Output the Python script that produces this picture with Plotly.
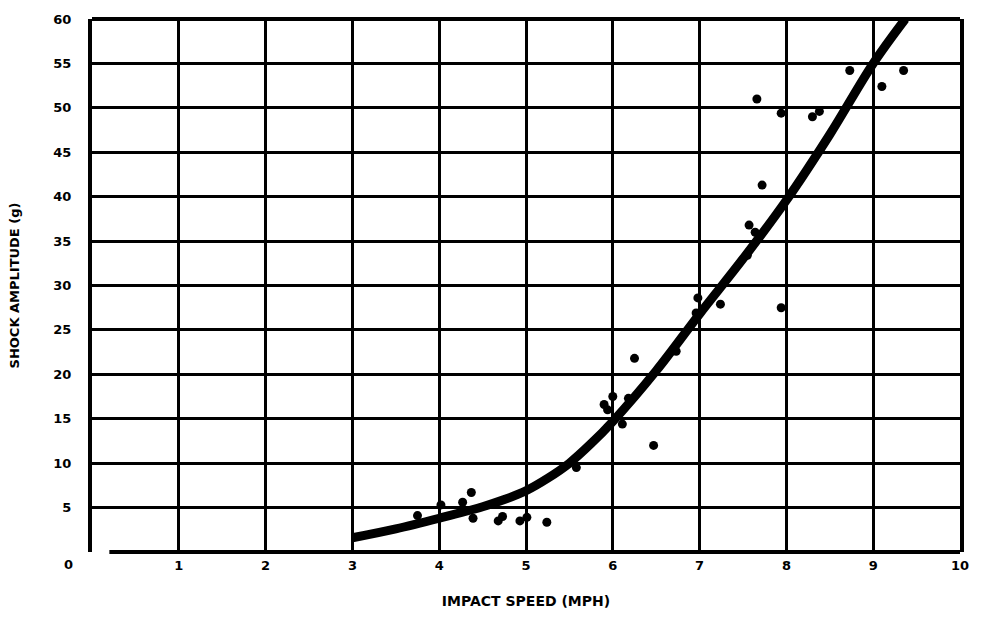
import plotly.graph_objects as go

# Measured data points (impact speed mph, shock amplitude g)
speed = [3.75, 4.02, 4.27, 4.37, 4.39, 4.68, 4.73, 4.93, 5.01, 5.24, 5.58,
         5.90, 5.94, 6.00, 6.11, 6.18, 6.25, 6.47, 6.73, 6.96, 6.98, 7.24,
         7.55, 7.57, 7.64, 7.66, 7.72, 7.94, 7.94, 8.30, 8.38, 8.73, 9.10, 9.35]
amplitude = [4.1, 5.3, 5.6, 6.7, 3.8, 3.5, 4.0, 3.5, 3.9, 3.35, 9.5,
             16.6, 16.0, 17.5, 14.4, 17.3, 21.8, 12.0, 22.6, 26.9, 28.6, 27.9,
             33.4, 36.8, 36.0, 51.0, 41.3, 49.4, 27.5, 49.0, 49.6, 54.2, 52.4, 54.2]

# Fitted curve
curve_speed = [3.0, 3.5, 4.0, 4.5, 4.75, 5.0, 5.25, 5.5, 5.75, 6.0, 6.5,
               7.0, 7.5, 8.0, 8.5, 9.0, 9.37]
curve_amp = [1.6, 2.6, 3.8, 5.1, 5.9, 6.9, 8.3, 10.0, 12.2, 14.7, 20.4,
             26.8, 33.0, 39.6, 47.0, 55.0, 60.0]

x_ticks = [1, 2, 3, 4, 5, 6, 7, 8, 9, 10]
y_ticks = [5, 10, 15, 20, 25, 30, 35, 40, 45, 50, 55, 60]

FONT = "DejaVu Sans"

fig = go.Figure()
fig.add_trace(go.Scatter(
    x=curve_speed, y=curve_amp, mode="lines",
    line=dict(color="black", width=9, shape="spline", smoothing=1.0),
    hoverinfo="skip", showlegend=False))
fig.add_trace(go.Scatter(
    x=speed, y=amplitude, mode="markers",
    marker=dict(color="black", size=9),
    showlegend=False))

fig.update_layout(
    width=981, height=619,
    margin=dict(l=92, r=16, t=15, b=66),
    paper_bgcolor="white", plot_bgcolor="white",
    font=dict(family=FONT, color="black", size=13, weight="bold"),
    xaxis=dict(
        range=[0, 10], tickvals=x_ticks, ticktext=[str(v) for v in x_ticks],
        showgrid=True, gridcolor="black", gridwidth=3,
        showline=False,
        zeroline=False, ticks="", ticklabelstandoff=4,
        tickfont=dict(family=FONT, size=13, weight="bold"),
        title=dict(text="IMPACT SPEED (MPH)", standoff=24,
                   font=dict(family=FONT, size=14, weight="bold")),
    ),
    yaxis=dict(
        range=[0, 60], tickvals=y_ticks, ticktext=[str(v) for v in y_ticks],
        showgrid=True, gridcolor="black", gridwidth=3,
        showline=True, linecolor="black", linewidth=4, mirror=True,
        zeroline=False, ticks="", ticklabelstandoff=14,
        tickfont=dict(family=FONT, size=13, weight="bold"),
        title=dict(text="SHOCK AMPLITUDE (g)", standoff=32,
                   font=dict(family=FONT, size=13, weight="bold")),
    ),
    shapes=[
        dict(type="line", xref="paper", yref="paper", x0=0, x1=1, y0=1, y1=1,
             line=dict(color="black", width=4)),
        dict(type="line", xref="paper", yref="paper", x0=0.02, x1=1, y0=0, y1=0,
             line=dict(color="black", width=4)),
    ],
    annotations=[dict(
        x=0, y=0, xref="x", yref="y", text="0", showarrow=False,
        xanchor="right", yanchor="top", xshift=-17, yshift=-3,
        font=dict(family=FONT, size=13, weight="bold"))],
)

fig.write_html("out.html")
